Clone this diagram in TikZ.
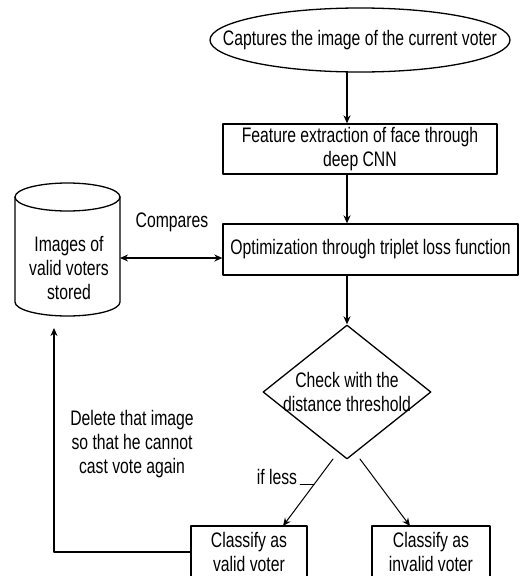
\documentclass[tikz,border=0pt]{standalone}
\usepackage{fontspec}
\setmainfont[FakeStretch=0.75]{Liberation Sans}
\usetikzlibrary{arrows.meta,shapes.geometric}

\begin{document}
\begin{tikzpicture}[line cap=round,line join=round,>={Stealth[length=8pt,width=7pt]},x=1pt,y=1pt,
		font=\fontsize{21}{24}\selectfont,
		box/.style={draw,rectangle,line width=1.3pt,align=center,inner sep=0pt},
		flow/.style={line width=1.3pt,->},
		thin flow/.style={line width=1pt,->},
		lbl/.style={align=center,inner sep=0pt}]
			\useasboundingbox (0,0) rectangle (520,-576);
			% main column
			\node[draw,ellipse,line width=1.3pt,minimum width=300pt,minimum height=64pt,inner sep=-40pt] (cap) at (360,-40) {Captures the image of the current voter};
			\node[box,minimum width=274pt,minimum height=50pt] (feat) at (360,-149) {Feature extraction of face through\\deep CNN};
			\node[box,minimum width=295pt,minimum height=51pt] (opt) at (370.5,-249.5) {Optimization through triplet loss function};
			\node[draw,diamond,line width=1.3pt,minimum width=168pt,minimum height=134pt,inner sep=-30pt,align=center] (dia) at (347,-392) {Check with the\\distance threshold};
			\node[box,minimum width=116pt,minimum height=52pt] (valid) at (249,-552) {Classify as\\valid voter};
			\node[box,minimum width=118pt,minimum height=52pt] (invalid) at (431,-552) {Classify as\\invalid voter};
			% stored images
			\draw [line width=1.3pt] (67.5,-197) ellipse (52.5 and 14);
			\draw [line width=1.3pt] (15,-197)-- (15,-302) arc[start angle=180,end angle=360,x radius=52.5,y radius=14] -- (120,-197);
			\node[lbl] (db) at (69,-268) {Images of\\valid voters\\stored};
			% labels
			\node[lbl] (cmp) at (172,-222) {Compares};
			\node[lbl] (del) at (132,-444) {Delete that image\\so that he cannot\\cast vote again};
			\node[lbl] (iflbl) at (277,-477) {if less};
			% connectors
			\coordinate (dbE) at (120,-258);
			\coordinate (dbS) at (54,-328);
			\coordinate (yesA) at (333,-459);
			\coordinate (yesB) at (283,-526);
			\coordinate (noA) at (360,-459);
			\coordinate (noB) at (410,-526);
			\coordinate (tick) at (300,-484);
			\draw [flow] (cap.south -| dia) -- (feat.north -| dia);
			\draw [flow] (feat.south -| dia) -- (opt.north -| dia);
			\draw [flow] (opt.south -| dia) -- (dia.north);
			\draw [line width=1.3pt,<->] (dbE) -- (dbE -| opt.west);
			\draw [thin flow] (yesA) -- (yesB);
			\draw [thin flow] (noA) -- (noB);
			\draw [line width=1pt] (tick) -- ++(14,0);
			\draw [flow] (valid.west) -| (dbS);
		\end{tikzpicture}
\end{document}
